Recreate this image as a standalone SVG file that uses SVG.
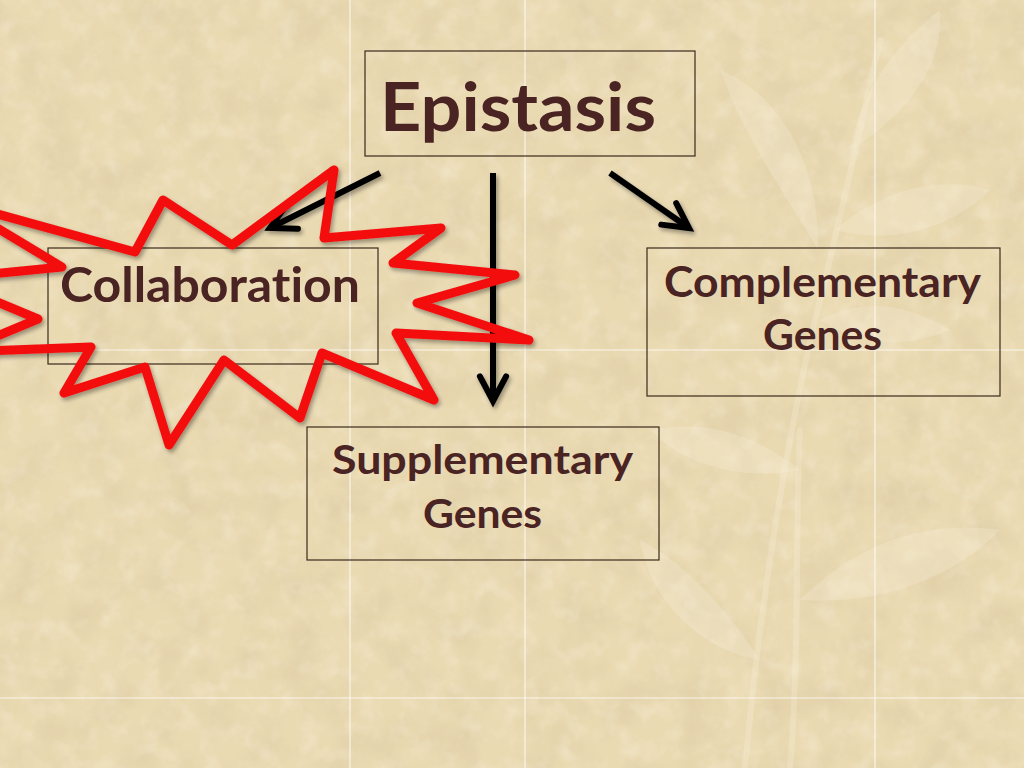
<svg xmlns="http://www.w3.org/2000/svg" width="1024" height="768" viewBox="0 0 1024 768">
<style>
.box{fill:none;stroke:#3b2a1c;stroke-width:1.2}
.lbl{font-family:Lato,"Open Sans","Liberation Sans",sans-serif;font-weight:700;fill:#4a2323;font-variant-ligatures:none;font-feature-settings:"liga" 0,"clig" 0}
.conn{stroke:#000;stroke-width:6;fill:none;stroke-linecap:butt}
.grid{stroke:#ffffff;stroke-width:1.2;opacity:0.75}
.leaf{fill:#fbf4e0;opacity:0.24}
.stem{fill:none;stroke:#fbf4e0;opacity:0.26;stroke-width:6;stroke-linecap:round}
</style>
<defs>
<filter id="tex" x="0" y="0" width="100%" height="100%">
<feTurbulence type="fractalNoise" baseFrequency="0.025" numOctaves="4" seed="7" result="n"/>
<feColorMatrix in="n" type="matrix" values="0 0 0 0 0.62  0 0 0 0 0.5  0 0 0 0 0.3  0 0 0 -1.6 0.95"/>
</filter>
<filter id="tex2" x="0" y="0" width="100%" height="100%">
<feTurbulence type="fractalNoise" baseFrequency="0.05" numOctaves="3" seed="3" result="n"/>
<feColorMatrix in="n" type="matrix" values="0 0 0 0 1  0 0 0 0 0.97  0 0 0 0 0.88  0 0 0 1.6 -0.75"/>
</filter>
<filter id="shadow" x="-10%" y="-10%" width="130%" height="130%">
<feDropShadow dx="2" dy="3" stdDeviation="2" flood-color="#000" flood-opacity="0.35"/>
</filter>
<marker id="chev" markerUnits="userSpaceOnUse" markerWidth="60" markerHeight="60" viewBox="-40 -30 60 60" refX="0" refY="0" orient="auto" overflow="visible">
<path d="M -24.7 -13.1 L 0 0 L -24.7 13.1" fill="none" stroke="#000" stroke-width="6" stroke-linejoin="miter" stroke-linecap="round"/>
</marker>
</defs>

<g id="background">
<rect x="0" y="0" width="1024" height="768" fill="#eadab2"/>
<rect x="0" y="0" width="1024" height="768" filter="url(#tex)" opacity="0.4"/>
<rect x="0" y="0" width="1024" height="768" filter="url(#tex2)" opacity="0.35"/>
<g id="plant">
<path class="stem" d="M 745 768 C 760 600 790 420 820 300 C 840 220 860 130 880 40"/>
<path class="stem" d="M 790 768 C 800 650 795 520 800 430"/>
<path class="leaf" d="M 818 250 C 790 200 750 150 720 70 C 770 90 820 150 818 250 Z"/>
<path class="leaf" d="M 850 150 C 860 90 900 40 940 10 C 945 70 900 120 850 150 Z"/>
<path class="leaf" d="M 835 230 C 880 190 940 175 990 190 C 950 230 890 245 835 230 Z"/>
<path class="leaf" d="M 820 320 C 860 300 900 300 950 330 C 900 350 860 345 820 320 Z"/>
<path class="leaf" d="M 800 470 C 750 430 700 420 650 430 C 690 470 750 480 800 470 Z"/>
<path class="leaf" d="M 800 600 C 860 540 930 520 1000 530 C 950 580 880 605 800 600 Z"/>
<path class="leaf" d="M 760 660 C 720 600 680 560 640 540 C 650 600 700 650 760 660 Z"/>
</g>
<g id="gridlines">
<line class="grid" x1="350" y1="0" x2="350" y2="768"/>
<line class="grid" x1="525" y1="0" x2="525" y2="768"/>
<line class="grid" x1="875" y1="0" x2="875" y2="768"/>
<line class="grid" x1="0" y1="350" x2="1024" y2="350"/>
<line class="grid" x1="0" y1="698" x2="1024" y2="698"/>
</g>
</g>

<g id="node-epistasis">
<rect class="box" x="365" y="51" width="330" height="105"/>
<text class="lbl" x="380" y="131" font-size="67" textLength="276" lengthAdjust="spacingAndGlyphs">Epistasis</text>
</g>

<g id="node-collaboration">
<rect class="box" x="48" y="248" width="330" height="116"/>
<text class="lbl" x="60" y="302" font-size="47" textLength="300" lengthAdjust="spacingAndGlyphs">Collaboration</text>
</g>

<g id="node-complementary">
<rect class="box" x="647" y="248" width="353" height="148"/>
<text class="lbl" x="664" y="297" font-size="42" textLength="317" lengthAdjust="spacingAndGlyphs">Complementary</text>
<text class="lbl" x="763" y="350" font-size="42" textLength="119" lengthAdjust="spacingAndGlyphs">Genes</text>
</g>

<g id="node-supplementary">
<rect class="box" x="307" y="427" width="352" height="133"/>
<text class="lbl" x="332" y="474" font-size="41" textLength="301" lengthAdjust="spacingAndGlyphs">Supplementary</text>
<text class="lbl" x="423" y="528" font-size="41" textLength="119" lengthAdjust="spacingAndGlyphs">Genes</text>
</g>

<g id="connectors" filter="url(#shadow)">
<line class="conn" x1="380" y1="173" x2="270" y2="228" marker-end="url(#chev)"/>
<line class="conn" x1="493" y1="173" x2="493" y2="401" marker-end="url(#chev)"/>
<line class="conn" x1="610" y1="173" x2="689" y2="228" marker-end="url(#chev)"/>
</g>

<g id="starburst" filter="url(#shadow)">
<polygon points="334,170 324,238 441,228 393,263 515,275 417,303 529,340 396,333 434,400 322,353 300,418 224,360 169,445 145,367 64,393 91,347 -41,352 38,319 -58,279 62,267 -46,202 135,252 163,200 232,245" fill="none" stroke="#f40d0d" stroke-width="9" stroke-linejoin="round"/>
</g>
</svg>
